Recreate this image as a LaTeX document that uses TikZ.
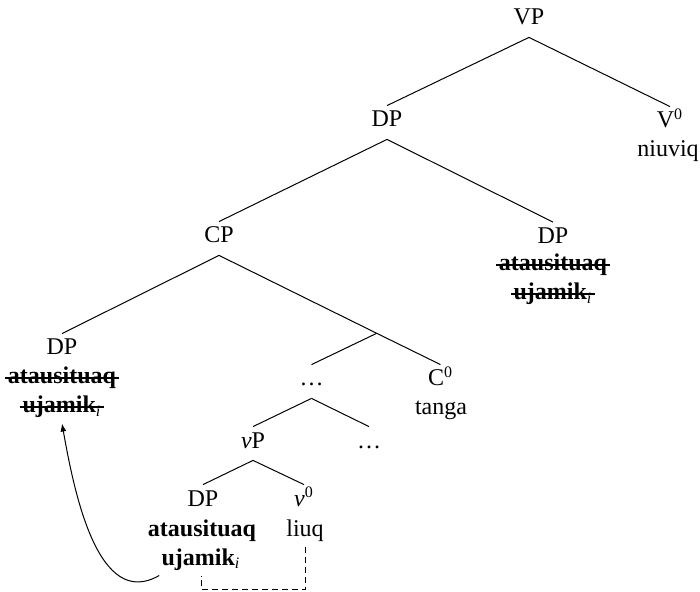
\documentclass[tikz,border=0pt]{standalone}
\usepackage{fontspec}
\setmainfont{Liberation Serif}
\usetikzlibrary{arrows.meta}
\newcommand\mystrike[1]{\setbox0=\hbox{#1}\rlap{\kern-1.5pt\rule[2.6pt]{\dimexpr\wd0+3pt\relax}{1pt}}\box0}
\begin{document}
\begin{tikzpicture}[x=0.5pt,y=-0.5pt,
  font=\fontsize{12}{14.5}\selectfont,
  cat/.style={anchor=base,inner xsep=1pt,inner ysep=3pt,text height=7.5pt,text depth=3pt},
  word/.style={anchor=base,inner xsep=1pt,inner ysep=2.5pt},
  branch/.style={line width=0.5pt},
  link/.style={line width=0.5pt,dash pattern=on 3pt off 2pt},
  move/.style={line width=0.5pt,-{Latex[length=4pt,width=3pt]}}]
\useasboundingbox (0,0) rectangle (700,592);
% nodes
\node[cat] (VP) at (529,25) {VP};
\node[cat] (DPa) at (387,127) {DP};
\node[cat] (V0) at (670,128) {V\textsuperscript{0}};
\node[word] (niuviq) at (668,157) {niuviq};
\node[cat] (CP) at (219,243) {CP};
\node[cat] (DPb) at (553,243.5) {DP};
\node[word] (atb) at (553,271) {\textbf{\mystrike{atausituaq}}};
\node[word] (ujb) at (553,300) {\textbf{\mystrike{ujamik\textsubscript{\mdseries\itshape i}}}};
\node[cat] (DPc) at (62,355) {DP};
\node[word] (atc) at (62,384) {\textbf{\mystrike{atausituaq}}};
\node[word] (ujc) at (62,413) {\textbf{\mystrike{ujamik\textsubscript{\mdseries\itshape i}}}};
\coordinate (Cbar) at (376.7,333.3);
\node[cat] (dotsa) at (311.5,386) {\dots};
\node[cat] (C0) at (440.5,386) {C\textsuperscript{0}};
\node[word] (tanga) at (441,415) {tanga};
\node[cat] (vP) at (253,448) {\textit{v}P};
\node[cat] (dotsb) at (369,448) {\dots};
\node[cat] (DPd) at (203,506) {DP};
\node[cat] (v0) at (304,506) {\textit{v}\textsuperscript{0}};
\node[word] (atd) at (202,536) {\textbf{atausituaq}};
\node[word] (ujd) at (201,565) {\textbf{ujamik\textsubscript{\mdseries\itshape i}}};
\node[word] (liuq) at (305,536) {liuq};
\coordinate (bot) at (0,589.3);
% branches
\draw[branch] (VP.south) -- (DPa.north);
\draw[branch] (VP.south) -- (V0.north);
\draw[branch] (DPa.south) -- (CP.north);
\draw[branch] (DPa.south) -- (DPb.north);
\draw[branch] (CP.south) -- (DPc.north);
\draw[branch] (CP.south) -- (Cbar) -- (C0.north);
\draw[branch] (Cbar) -- (dotsa.north);
\draw[branch] (dotsa.south) -- (vP.north);
\draw[branch] (dotsa.south) -- (dotsb.north);
\draw[branch] (vP.south) -- (DPd.north);
\draw[branch] (vP.south) -- (v0.north);
% dashed link
\draw[link] (liuq.south) -- (liuq.south |- bot) -- (ujd.south |- bot) -- (ujd.south);
% movement arrow
\draw[move] (ujd.south west) to[out=-150,in=-80] (ujc.south);
\end{tikzpicture}
\end{document}
